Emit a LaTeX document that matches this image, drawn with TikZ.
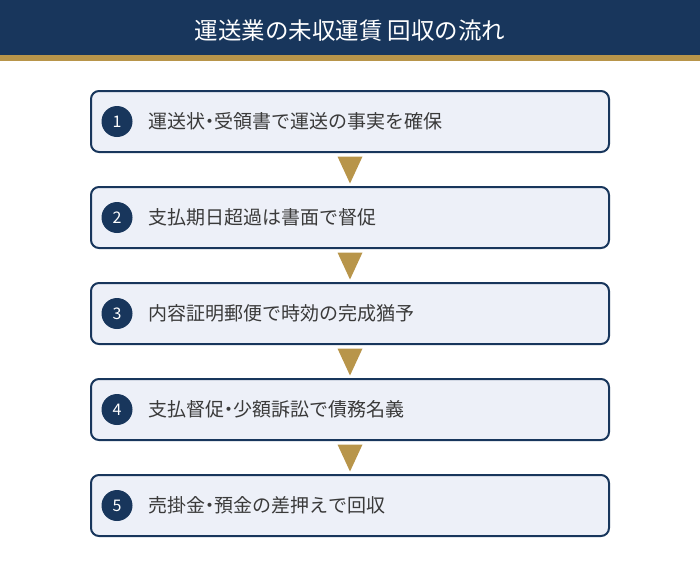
\documentclass[tikz,border=0pt]{standalone}
\usepackage{fontspec}
\usetikzlibrary{calc}
\setmainfont{Noto Sans CJK JP}
\definecolor{navy}{HTML}{18365C}
\definecolor{gold}{HTML}{B8954A}
\definecolor{boxfill}{HTML}{EDF0F8}
\definecolor{txt}{HTML}{3A3A3A}
\newcommand{\nakaguro}{\hspace{-0.25em}・\hspace{-0.25em}}
\begin{document}
\begin{tikzpicture}[x=1pt,y=-1pt,
  stepbox/.style={draw=navy,line width=2pt,fill=boxfill,rounded corners=8pt,minimum width=518pt,minimum height=61pt,inner sep=0pt},
  numcirc/.style={circle,fill=navy,minimum size=31pt,inner sep=0pt,text=white,font=\fontsize{16}{16}\selectfont},
  steptext/.style={anchor=west,text=txt,font=\fontsize{19}{19}\selectfont,inner sep=0pt},
  arrowtri/.style={fill=gold,draw=none}]
\useasboundingbox (0,0) rectangle (700,566);
\fill[navy] (0,0) rectangle (700,55);
\fill[gold] (0,55) rectangle (700,60.5);
\node[text=white,font=\fontsize{23.5}{23.5}\selectfont] (title) at (350,31) {運送業の未収運賃 回収の流れ};
\foreach \i/\y/\t in {1/121.5/運送状\nakaguro 受領書で運送の事実を確保,
                     2/217.5/支払期日超過は書面で督促,
                     3/313.5/内容証明郵便で時効の完成猶予,
                     4/409.5/支払督促\nakaguro 少額訴訟で債務名義,
                     5/505.5/売掛金\nakaguro 預金の差押えで回収}{
  \node[stepbox] (box\i) at (350,\y) {};
  \node[numcirc] (num\i) at (117,\y) {\i};
  \node[steptext] (text\i) at (148,\y) {\t};
}
\foreach \a/\b in {1/2,2/3,3/4,4/5}{
  \path (box\a.south) ++(0,3.5) coordinate (t\a);
  \fill[arrowtri] ($(t\a)+(-12.5,0)$) -- ($(t\a)+(12.5,0)$) -- ($(t\a)+(0,27)$) -- cycle;
}
\end{tikzpicture}
\end{document}
